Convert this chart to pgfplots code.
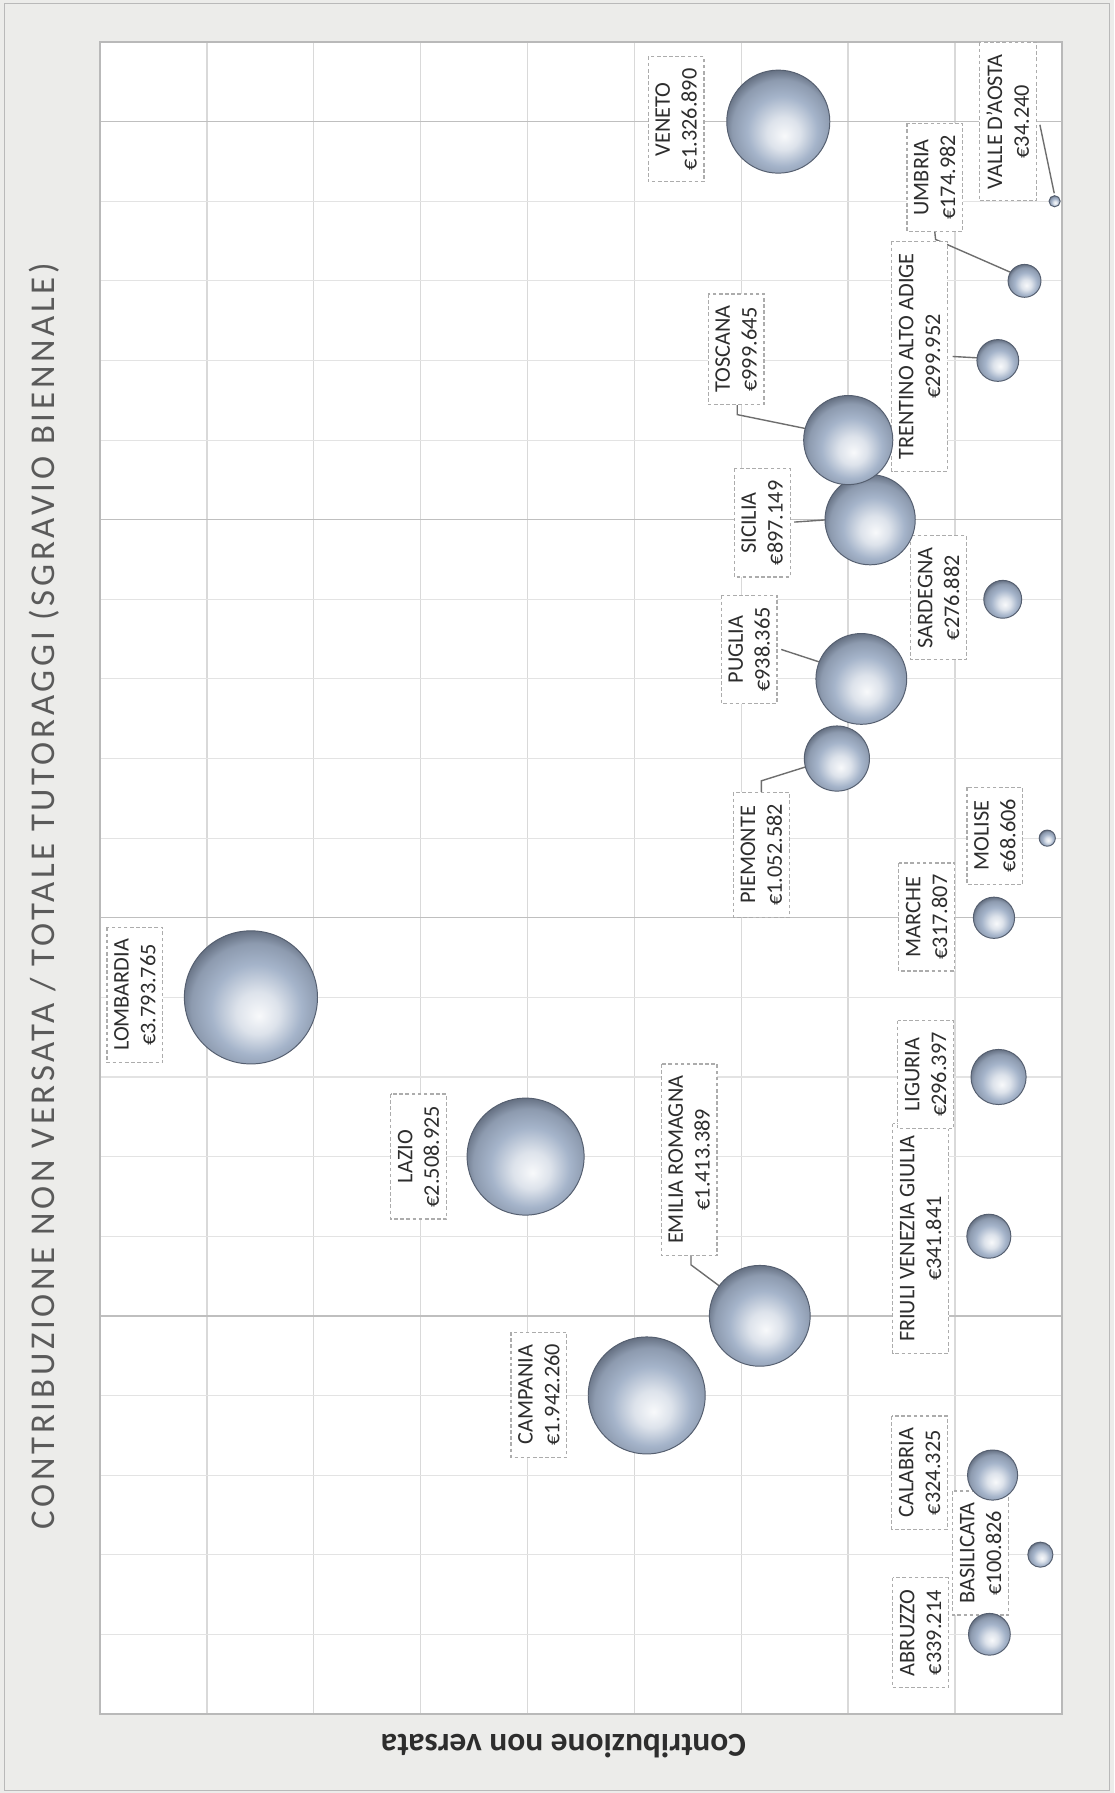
\documentclass[border=0pt]{standalone}
\usepackage{fontspec}
\setmainfont{Carlito}
\newfontfamily\titlefont[LetterSpace=10.8]{Carlito}
\usepackage{pgfplots}
\usepackage{pgfplotstable}
\pgfplotsset{compat=1.18}
\definecolor{pagebg}{RGB}{236,236,234}
\definecolor{titlec}{RGB}{90,90,90}
\definecolor{txt}{RGB}{45,45,45}
\definecolor{bub}{RGB}{165,180,202}
\definecolor{rim}{RGB}{85,95,112}
\definecolor{leader}{RGB}{110,110,110}
\pgfdeclareradialshading{bubble}{\pgfpoint{3bp}{-7bp}}{%
  color(0bp)=(white!92!bub); color(8bp)=(white!62!bub); color(17bp)=(bub);
  color(24bp)=(bub!70!rim); color(30bp)=(rim); color(50bp)=(rim)}
\pgfdeclareplotmark{bubble}{%
  \pgfpathcircle{\pgfpointorigin}{\pgfplotmarksize}%
  \pgfshadepath{bubble}{0}%
  \pgfusepath{stroke}}
\tikzset{lab/.style={draw=gray!65, dash pattern=on 1.3pt off 0.9pt, line width=0.45pt,
    fill=white, rotate=90, align=center, text=txt,
    font=\fontsize{8}{9.6}\selectfont, inner xsep=4.2pt, inner ysep=2.6pt}}

% idx = region position, v = contribuzione non versata (milioni di euro), r = raggio bolla (pt)
\pgfplotstableread{
idx v r
1 0.339214 7.5
2 0.100826 4.5
3 0.324325 9.0
4 1.942260 21.0
5 1.413389 18.1
6 0.341841 7.9
7 2.508925 21.0
8 0.296397 9.9
9 3.793765 23.9
10 0.317807 7.4
11 0.068606 2.9
12 1.052582 11.7
13 0.938365 16.3
14 0.276882 6.8
15 0.897149 16.2
16 0.999645 16.0
17 0.299952 7.5
18 0.174982 5.9
19 0.034240 2.0
20 1.326890 18.5
}\data

\begin{document}
\begin{tikzpicture}[x=1pt,y=1pt]
\fill[pagebg] (0,0) rectangle (400,643.8);
\draw[gray!55, line width=0.5pt] (1.6,0.8) rectangle (398.4,642.6);
\begin{axis}[
  at={(35.9pt,28.4pt)}, anchor=south west,
  scale only axis, width=345.4pt, height=600.3pt,
  x dir=reverse,
  xmin=0, xmax=4.5, ymin=0, ymax=21,
  xtick={0,0.5,...,4.5},
  ytick={0,5,...,20},
  minor ytick={1,2,3,4,6,7,8,9,11,12,13,14,16,17,18,19,21},
  xticklabels={}, yticklabels={},
  major tick length=0pt, minor tick length=0pt,
  grid=both,
  major x grid style={gray!30, line width=0.5pt},
  major y grid style={gray!50, line width=0.5pt},
  minor y grid style={gray!22, line width=0.4pt},
  axis line style={gray!55, line width=0.5pt},
  axis background/.style={fill=white},
  clip=false,
]
\addplot[scatter, only marks, mark=bubble,
  scatter/use mapped color={draw=rim, line width=0.35pt},
  visualization depends on={\thisrow{r} \as \rad},
  scatter/@pre marker code/.append style={/tikz/mark size=\rad pt},
  scatter/@post marker code/.append style={}]
  table[x=v, y=idx] {\data};

\draw[leader, line width=0.5pt] (axis cs:0.103,19.96) -- (axis cs:0.036,19.10);
\draw[leader, line width=0.5pt] (axis cs:0.595,18.62) -- (axis cs:0.591,18.52) -- (axis cs:0.234,18.10);
\draw[leader, line width=0.5pt] (axis cs:0.511,17.05) -- (axis cs:0.305,17.02);
\draw[leader, line width=0.5pt] (axis cs:1.519,16.46) -- (axis cs:1.519,16.32) -- (axis cs:1.008,16.04);
\draw[leader, line width=0.5pt] (axis cs:1.252,14.97) -- (axis cs:0.933,15.03);
\draw[leader, line width=0.5pt] (axis cs:1.313,13.37) -- (axis cs:0.938,13.04);
\draw[leader, line width=0.5pt] (axis cs:1.406,11.58) -- (axis cs:1.406,11.72) -- (axis cs:1.074,12.0);
\draw[leader, line width=0.5pt] (axis cs:1.735,5.78) -- (axis cs:1.735,5.64) -- (axis cs:1.430,5.03);

\node[lab] at (axis cs:0.661,1.02) {ABRUZZO\\€339.214};
\node[lab] at (axis cs:0.380,2.02) {BASILICATA\\€100.826};
\node[lab] at (axis cs:0.666,3.03) {CALABRIA\\€324.325};
\node[lab] at (axis cs:2.447,4.01) {CAMPANIA\\€1.942.260};
\node[lab] at (axis cs:1.744,6.96) {EMILIA ROMAGNA\\€1.413.389};
\node[lab] at (axis cs:0.661,5.97) {FRIULI VENEZIA GIULIA\\€341.841};
\node[lab] at (axis cs:3.010,7.00) {LAZIO\\€2.508.925};
\node[lab] at (axis cs:0.638,8.03) {LIGURIA\\€296.397};
\node[lab] at (axis cs:4.337,9.03) {LOMBARDIA\\€3.793.765};
\node[lab] at (axis cs:0.633,10.01) {MARCHE\\€317.807};
\node[lab] at (axis cs:0.314,11.03) {MOLISE\\€68.606};
\node[lab] at (axis cs:1.406,10.79) {PIEMONTE\\€1.052.582};
\node[lab] at (axis cs:1.463,13.37) {PUGLIA\\€938.365};
\node[lab] at (axis cs:0.577,14.02) {SARDEGNA\\€276.882};
\node[lab] at (axis cs:1.402,14.96) {SICILIA\\€897.149};
\node[lab] at (axis cs:1.524,17.14) {TOSCANA\\€999.645};
\node[lab] at (axis cs:0.666,17.05) {TRENTINO ALTO ADIGE\\€299.952};
\node[lab] at (axis cs:0.595,19.30) {UMBRIA\\€174.982};
\node[lab] at (axis cs:0.253,20.00) {VALLE D'AOSTA\\€34.240};
\node[lab] at (axis cs:1.805,20.03) {VENETO\\€1.326.890};
\end{axis}
\node[rotate=90, text=titlec, font=\titlefont\fontsize{12.5}{14}\selectfont] at (15.8,322) {CONTRIBUZIONE NON VERSATA / TOTALE TUTORAGGI (SGRAVIO BIENNALE)};
\node[rotate=180, text=txt, font=\bfseries\fontsize{12}{14}\selectfont] at (202.3,16.9) {Contribuzione non versata};
\end{tikzpicture}
\end{document}
